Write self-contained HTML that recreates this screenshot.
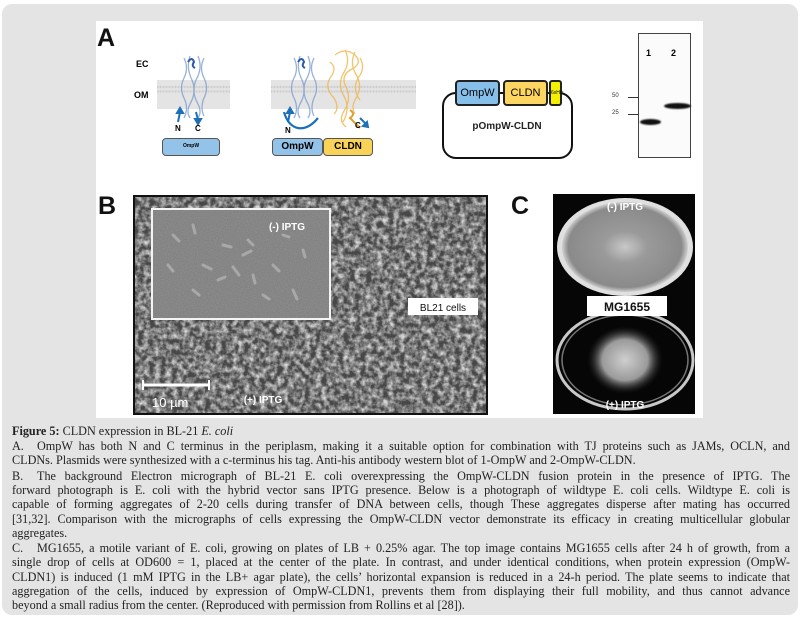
<!DOCTYPE html>
<html><head><meta charset="utf-8"><style>
*{margin:0;padding:0;box-sizing:border-box}
body{width:800px;height:621px;background:#fff;position:relative;overflow:hidden;font-family:"Liberation Sans",sans-serif}
.card{position:absolute;left:2px;top:4px;width:796px;height:611px;background:#e4e4e4;border-radius:10px}
.fig{position:absolute;left:96px;top:21px;width:607px;height:397px;background:#fff}
.a{position:absolute}
.lbl{position:absolute;font-weight:bold;font-size:24px;color:#111}
.box{position:absolute;border:2px solid #222;border-radius:4px;font-size:11px;text-align:center}
.cap{position:absolute;left:12px;width:778px;font-family:"Liberation Serif",serif;font-size:12.2px;line-height:14px;color:#222;text-align:justify;text-align-last:justify;white-space:nowrap;}
.cap.l{text-align-last:left}
.cap span.i{display:inline-block;width:25px}
</style></head><body>
<div class="card"></div>
<div class="fig"></div>

<div class="lbl" style="left:97px;top:24px;font-size:25px">A</div>
<div class="a" style="left:136px;top:59px;font-size:9px;font-weight:bold">EC</div>
<div class="a" style="left:134px;top:90px;font-size:9px;font-weight:bold">OM</div>
<svg class="a" style="left:150px;top:45px" width="280" height="125" viewBox="150 45 280 125">
 <defs>
  <pattern id="lip" width="3" height="30" patternUnits="userSpaceOnUse"><rect width="3" height="30" fill="#e4e4e4"/><circle cx="1.5" cy="1.5" r="1.2" fill="#cfcfcf"/><circle cx="1.5" cy="27" r="1.2" fill="#cfcfcf"/></pattern>
 </defs>
 <rect x="157" y="80" width="73" height="29" fill="url(#lip)"/>
 <rect x="271" y="80" width="145" height="29" fill="url(#lip)"/>
 <g fill="none" stroke="#7e9fd0" stroke-width="1.3" opacity="0.8">
  <path d="M184 58 q5 10 0 20 q-5 10 0 20 q5 10 0 20"/><path d="M190 56 q-4 12 2 24 q5 12 -2 24 q-4 8 0 14"/>
  <path d="M198 56 q5 12 -2 24 q-5 12 2 24 q4 8 0 14"/><path d="M204 58 q-5 10 0 20 q5 10 0 20 q-4 10 0 18"/>
  <path d="M294 58 q5 10 0 20 q-5 10 0 20 q5 10 0 20"/><path d="M300 56 q-4 12 2 24 q5 12 -2 24 q-4 8 0 14"/>
  <path d="M308 56 q5 12 -2 24 q-5 12 2 24 q4 8 0 14"/><path d="M314 58 q-5 10 0 20 q5 10 0 20 q-4 10 0 18"/>
 </g>
 <path d="M188 62 q4 -6 6 0 q-3 4 1 6" stroke="#2a5aa8" stroke-width="2" fill="none"/>
 <path d="M298 62 q4 -6 6 0 q-3 4 1 6" stroke="#2a5aa8" stroke-width="2" fill="none"/>
 <g fill="none" stroke="#f0b64a" stroke-width="1.3" opacity="0.8">
  <path d="M335 55 q10 -8 20 0 q8 8 -3 14 q-12 6 -6 18 q6 12 -2 24 q-6 10 2 16"/>
  <path d="M345 50 q6 12 -2 24 q-6 12 2 24 q5 12 -2 24"/><path d="M355 52 q-6 12 2 24 q6 12 -2 24 q-4 8 0 14"/>
  <path d="M330 62 q8 6 0 16 q-6 10 4 20 q6 10 0 16"/><path d="M360 58 q6 10 -2 20 q-6 12 2 22"/>
 </g>
 <path d="M350 110 q6 4 0 8 l10 10" stroke="#e0a030" stroke-width="2" fill="none"/>
 <path d="M284 112 q4 14 14 16 q10 2 20 -10" stroke="#1d6fb8" stroke-width="2.2" fill="none"/>
 <g stroke="#1d6fb8" stroke-width="2" fill="#1d6fb8">
  <line x1="178" y1="122" x2="180" y2="112"/><path d="M177 113 l3 -5 l3 5z"/>
  <line x1="196" y1="112" x2="198" y2="120"/><path d="M195 119 l3 5 l3 -5z"/>
  <line x1="288" y1="122" x2="290" y2="112"/><path d="M287 113 l3 -5 l3 5z"/>
  <line x1="360" y1="118" x2="366" y2="124"/><path d="M363 126 l5 1 l-1 -5z"/>
 </g>
</svg>
<div class="a" style="left:175px;top:124px;font-size:8px;font-weight:bold">N</div>
<div class="a" style="left:195px;top:124px;font-size:8px;font-weight:bold">C</div>
<div class="a" style="left:285px;top:126px;font-size:8px;font-weight:bold">N</div>
<div class="a" style="left:355px;top:121px;font-size:8px;font-weight:bold">C</div>
<div class="box" style="left:162px;top:138px;width:58px;height:18px;background:#93c3e8;border:1.5px solid #555;font-size:5px;line-height:15px;font-weight:bold">OmpW</div>
<div class="box" style="left:272px;top:138px;width:51px;height:18px;background:#93c3e8;border:1.5px solid #555;font-weight:bold;line-height:15px;font-size:10px">OmpW</div>
<div class="box" style="left:323px;top:138px;width:50px;height:18px;background:#f9d258;border:1.5px solid #555;font-weight:bold;line-height:15px;font-size:10px">CLDN</div>

<div class="a" style="left:442px;top:92px;width:131px;height:67px;border:2px solid #111;border-radius:14px;background:#fff"></div>
<div class="box" style="left:455px;top:80px;width:45px;height:26px;background:#86c0ea;line-height:22px;font-size:11px">OmpW</div>
<div class="box" style="left:503px;top:80px;width:45px;height:26px;background:#fcd660;line-height:22px;font-size:11px">CLDN</div>
<div class="box" style="left:549px;top:80px;width:13px;height:26px;background:#f4f000;font-size:5px;line-height:22px;border-radius:3px">6xHis</div>
<div class="a" style="left:465px;top:121px;width:84px;text-align:center;font-size:10px;font-weight:bold;color:#222">pOmpW-CLDN</div>

<div class="a" style="left:638px;top:33px;width:53px;height:125px;border:1.5px solid #444;background:#fbfbfb"></div>
<div class="a" style="left:646px;top:48px;font-size:9px;font-weight:bold">1</div>
<div class="a" style="left:671px;top:48px;font-size:9px;font-weight:bold">2</div>
<div class="a" style="left:612px;top:93px;font-size:6px;color:#333">50</div>
<div class="a" style="left:612px;top:110px;font-size:6px;color:#333">25</div>
<div class="a" style="left:628px;top:97px;width:11px;height:1px;background:#333"></div>
<div class="a" style="left:628px;top:114px;width:11px;height:1px;background:#333"></div>
<div class="a" style="left:640px;top:119px;width:21px;height:6px;background:#111;border-radius:50%;filter:blur(0.7px)"></div>
<div class="a" style="left:664px;top:103px;width:27px;height:6px;background:#111;border-radius:50%;filter:blur(0.7px)"></div>

<div class="lbl" style="left:98px;top:192px;font-size:25px">B</div>
<svg class="a" style="left:133px;top:195px" width="355" height="220">
 <defs>
  <filter id="n1" x="0" y="0" width="100%" height="100%"><feTurbulence type="fractalNoise" baseFrequency="0.18" numOctaves="3" seed="3"/><feColorMatrix type="matrix" values="0 0 0 0 0.68  0 0 0 0 0.68  0 0 0 0 0.68  -2 0 0 0 1.35"/></filter>
  <filter id="n2" x="0" y="0" width="100%" height="100%"><feTurbulence type="fractalNoise" baseFrequency="0.9" numOctaves="1" seed="8"/><feColorMatrix type="matrix" values="0 0 0 0 0.7  0 0 0 0 0.7  0 0 0 0 0.7  0 0 0 0.25 0"/></filter>
 </defs>
 <rect width="355" height="220" fill="#111"/>
 <rect x="2" y="2" width="351" height="216" fill="#474747"/>
 <rect x="2" y="2" width="351" height="216" filter="url(#n1)"/>
 <rect x="19" y="14" width="178" height="110" fill="#7a7a7a" stroke="#f4f4f4" stroke-width="2"/>
 <rect x="20" y="15" width="176" height="108" filter="url(#n2)"/>
 <g stroke="#a8a8a8" stroke-width="3" stroke-linecap="round">
  <line x1="40" y1="40" x2="46" y2="46"/><line x1="60" y1="30" x2="62" y2="38"/><line x1="90" y1="50" x2="98" y2="52"/><line x1="110" y1="60" x2="118" y2="56"/>
  <line x1="70" y1="70" x2="78" y2="74"/><line x1="120" y1="80" x2="122" y2="88"/><line x1="140" y1="70" x2="146" y2="76"/><line x1="100" y1="72" x2="106" y2="80"/>
  <line x1="150" y1="40" x2="156" y2="42"/><line x1="170" y1="55" x2="172" y2="62"/><line x1="130" y1="100" x2="136" y2="104"/><line x1="60" y1="95" x2="66" y2="100"/>
  <line x1="85" y1="85" x2="92" y2="82"/><line x1="115" y1="45" x2="120" y2="50"/><line x1="35" y1="70" x2="40" y2="76"/><line x1="160" y1="95" x2="164" y2="104"/>
 </g>
 <rect x="275" y="103" width="70" height="17" fill="#fff"/>
 <text x="310" y="116" font-family="Liberation Sans" font-size="10" text-anchor="middle" fill="#111">BL21 cells</text>
 <text x="154" y="35" font-family="Liberation Sans" font-size="10" font-weight="bold" text-anchor="middle" fill="#fff">(-) IPTG</text>
 <text x="130" y="208" font-family="Liberation Sans" font-size="10" font-weight="bold" text-anchor="middle" fill="#fff">(+) IPTG</text>
 <line x1="10" y1="190" x2="76" y2="190" stroke="#fff" stroke-width="3"/>
 <line x1="10" y1="185" x2="10" y2="195" stroke="#fff" stroke-width="2"/><line x1="76" y1="185" x2="76" y2="195" stroke="#fff" stroke-width="2"/>
 <text x="19" y="212" font-family="Liberation Sans" font-size="13" fill="#fff">10 µm</text>
</svg>

<div class="lbl" style="left:511px;top:192px;font-size:25px">C</div>
<svg class="a" style="left:553px;top:194px" width="142" height="220">
 <defs>
  <radialGradient id="g1" cx="50%" cy="50%" r="50%"><stop offset="0" stop-color="#c8c8c8"/><stop offset="0.35" stop-color="#9a9a9a"/><stop offset="0.9" stop-color="#8a8a8a"/><stop offset="1" stop-color="#d0d0d0"/></radialGradient>
  <radialGradient id="g2" cx="50%" cy="50%" r="50%"><stop offset="0" stop-color="#cfcfcf"/><stop offset="0.6" stop-color="#9a9a9a"/><stop offset="1" stop-color="#222" stop-opacity="0"/></radialGradient>
 </defs>
 <rect width="142" height="220" fill="#060606"/>
 <ellipse cx="72" cy="53" rx="68" ry="49" fill="#e0e0e0"/>
 <ellipse cx="72" cy="53" rx="63" ry="45" fill="url(#g1)"/>
 <ellipse cx="72" cy="166" rx="68" ry="49" fill="none" stroke="#c8c8c8" stroke-width="3"/>
 <ellipse cx="72" cy="166" rx="63" ry="45" fill="none" stroke="#777" stroke-width="1.5"/>
 <ellipse cx="72" cy="166" rx="38" ry="34" fill="url(#g2)"/>
 <rect x="34" y="102" width="80" height="20" fill="#fff"/>
 <text x="74" y="117" font-family="Liberation Sans" font-size="12" font-weight="bold" text-anchor="middle" fill="#111">MG1655</text>
 <text x="72" y="16" font-family="Liberation Sans" font-size="10" font-weight="bold" text-anchor="middle" fill="#fff">(-) IPTG</text>
 <text x="72" y="214" font-family="Liberation Sans" font-size="10" font-weight="bold" text-anchor="middle" fill="#fff">(+) IPTG</text>
</svg>

<div class="cap l" style="top:424px"><b>Figure 5:</b> CLDN expression in BL-21 <i>E. coli</i></div>
<div class="cap" style="top:439px"><span class="i">A.</span>OmpW has both N and C terminus in the periplasm, making it a suitable option for combination with TJ proteins such as JAMs, OCLN, and</div>
<div class="cap l" style="top:453px">CLDNs. Plasmids were synthesized with a c-terminus his tag. Anti-his antibody western blot of 1-OmpW and 2-OmpW-CLDN.</div>
<div class="cap" style="top:469px"><span class="i">B.</span>The background Electron micrograph of BL-21 E. coli overexpressing the OmpW-CLDN fusion protein in the presence of IPTG. The</div>
<div class="cap" style="top:483px">forward photograph is E. coli with the hybrid vector sans IPTG presence. Below is a photograph of wildtype E. coli cells. Wildtype E. coli is</div>
<div class="cap" style="top:497px">capable of forming aggregates of 2-20 cells during transfer of DNA between cells, though These aggregates disperse after mating has occurred</div>
<div class="cap" style="top:512px">[31,32]. Comparison with the micrographs of cells expressing the OmpW-CLDN vector demonstrate its efficacy in creating multicellular globular</div>
<div class="cap l" style="top:526px">aggregates.</div>
<div class="cap" style="top:541px"><span class="i">C.</span>MG1655, a motile variant of E. coli, growing on plates of LB + 0.25% agar. The top image contains MG1655 cells after 24 h of growth, from a</div>
<div class="cap" style="top:555px">single drop of cells at OD600 = 1, placed at the center of the plate. In contrast, and under identical conditions, when protein expression (OmpW-</div>
<div class="cap" style="top:570px">CLDN1) is induced (1 mM IPTG in the LB+ agar plate), the cells’ horizontal expansion is reduced in a 24-h period. The plate seems to indicate that</div>
<div class="cap" style="top:584px">aggregation of the cells, induced by expression of OmpW-CLDN1, prevents them from displaying their full mobility, and thus cannot advance</div>
<div class="cap l" style="top:598px">beyond a small radius from the center. (Reproduced with permission from Rollins et al [28]).</div>
</body></html>
